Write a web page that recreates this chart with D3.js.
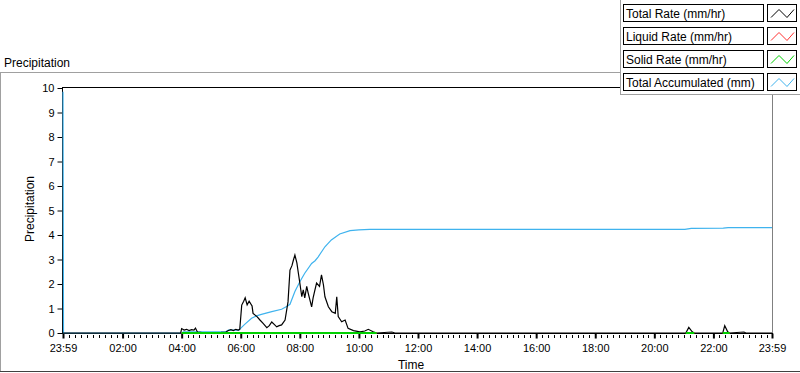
<!DOCTYPE html>
<html>
<head>
<meta charset="utf-8">
<script src="https://cdn.jsdelivr.net/npm/d3@7"></script>
<style>
  body { margin: 0; background: #fff; }
  svg { display: block; font-family: "Liberation Sans", Arial, sans-serif; }
</style>
</head>
<body>
<div id="container"></div>
<script>
/* DATA (minutes after midnight, -1 = 23:59 of the day before) */
const rateMinutes = [-1, 238, 240, 245, 250, 255, 260, 265, 268, 272, 280, 300, 320, 330, 335, 340, 345, 350, 355, 358,
  362, 366, 369, 373, 377, 383, 385, 393, 399, 405, 413, 418, 423, 428, 433, 438, 443, 450, 456, 460, 464, 467, 470, 474, 477,
  480, 484, 487, 490, 494, 497, 504, 507, 510, 514, 520, 524, 528, 531, 538, 545, 552, 555, 558, 565, 572, 578, 589, 602,
  612, 619, 629, 636, 667, 673, 1264, 1270, 1277, 1281, 1339, 1343, 1349, 1353, 1382, 1386, 1439];
const rateValues = [0, 0, 0.18, 0.12, 0.15, 0.1, 0.14, 0.12, 0.2, 0.04, 0.03, 0.02, 0.03, 0.04, 0.1, 0.14, 0.1, 0.15, 0.12, 0.15,
  1.14, 1.3, 1.44, 1.15, 1.3, 1.1, 0.8, 0.67, 0.53, 0.4, 0.22, 0.3, 0.45, 0.35, 0.25, 0.3, 0.33, 0.53, 1.27, 2.57, 2.75, 2.98, 3.18, 2.86, 2.45,
  2.04, 1.48, 1.76, 1.43, 1.9, 1.63, 1.07, 1.43, 1.7, 2.04, 1.9, 2.37, 1.96, 1.48, 1.07, 0.87, 0.8, 1.48, 0.67, 0.46, 0.53, 0.19, 0.1, 0.05,
  0.08, 0.15, 0.05, 0, 0.04, 0, 0, 0.23, 0.05, 0, 0, 0.3, 0.05, 0, 0.04, 0, 0];

const accumMinutes = [-1, 0, 240, 244, 330, 335, 356, 368, 382, 392, 402, 423, 443, 456, 460, 470, 480, 490, 504, 511, 517,
  531, 544, 561, 582, 600, 622, 1262, 1275, 1340, 1350, 1439];
const accumValues = [9.85, 0, 0, 0.05, 0.06, 0.12, 0.12, 0.35, 0.6, 0.7, 0.76, 0.87, 0.97, 1.11, 1.17, 1.69, 2.09, 2.44, 2.84, 2.95, 3.1,
  3.52, 3.8, 4.04, 4.18, 4.21, 4.23, 4.23, 4.27, 4.28, 4.3, 4.3];

const solidMinutes = [240, 636, 637, 1264, 1281, 1282, 1339, 1353];
const solidValues = [0, 0, null, 0, 0, null, 0, 0];
const liquidMinutes = solidMinutes;
const liquidValues = solidValues;

const yTicks = [0, 1, 2, 3, 4, 5, 6, 7, 8, 9, 10];
const xMajorTicks = [-1, 120, 240, 360, 480, 600, 720, 840, 960, 1080, 1200, 1320, 1439];
const xMinorTicks = d3.range(12, 1439, 12).filter(m => m % 120 !== 0);

const legendNames = ["Total Rate (mm/hr)", "Liquid Rate (mm/hr)", "Solid Rate (mm/hr)", "Total Accumulated (mm)"];
const legendColors = ["#000000", "#ff3030", "#00d000", "#3fb3ee"];

/* CONSTANTS */
const width = 800, height = 373;
const plot = { left: 63, right: 772, top: 88, bottom: 333 };

const svg = d3.select("#container").append("svg")
  .attr("width", width)
  .attr("height", height);

/* SCALES */
const xScale = d3.scaleLinear().domain([-1, 1439]).range([plot.left, plot.right]);
const yScale = d3.scaleLinear().domain([0, 10]).range([plot.bottom, plot.top]);

const fmt = m => m < 0 ? "23:59" : d3.format("02")(Math.floor(m / 60)) + ":" + d3.format("02")(m % 60);

/* outer panel */
svg.append("line").attr("x1", 0.5).attr("x2", 0.5).attr("y1", 72).attr("y2", 372).attr("stroke", "#a0a0a0");
svg.append("line").attr("x1", 0).attr("x2", 800).attr("y1", 72.5).attr("y2", 72.5).attr("stroke", "#a0a0a0");
svg.append("line").attr("x1", 0).attr("x2", 800).attr("y1", 371.5).attr("y2", 371.5).attr("stroke", "#404040");

svg.append("text").attr("x", 4).attr("y", 67).attr("font-size", 12).text("Precipitation");

/* plot frame */
svg.append("rect").attr("x", plot.left - 0.5).attr("y", plot.top - 0.5)
  .attr("width", plot.right - plot.left + 1).attr("height", plot.bottom - plot.top + 1)
  .attr("fill", "#fff").attr("stroke", "none");
svg.append("line").attr("x1", plot.left - 1).attr("x2", plot.right).attr("y1", plot.top - 0.5).attr("y2", plot.top - 0.5).attr("stroke", "#000");
svg.append("line").attr("x1", plot.right + 0.5).attr("x2", plot.right + 0.5).attr("y1", plot.top).attr("y2", plot.bottom).attr("stroke", "#808080");

/* AXES */
const yAxis = d3.axisLeft(yScale).tickValues(yTicks).tickSize(5).tickPadding(3).tickFormat(d3.format("d"));
const yG = svg.append("g").attr("transform", `translate(${plot.left - 0.5},0)`).call(yAxis);
yG.select(".domain").attr("d", `M0,${plot.top - 1}V${plot.bottom + 1}`).attr("stroke", "#000");
yG.selectAll("text").attr("font-size", 11).attr("font-family", "Liberation Sans, Arial, sans-serif").attr("fill", "#000");

const xAxis = d3.axisBottom(xScale).tickValues(xMajorTicks).tickSize(5).tickPadding(6).tickFormat(fmt);
const xG = svg.append("g").attr("transform", `translate(0,${plot.bottom + 0.5})`).call(xAxis);
xG.select(".domain").attr("d", `M${plot.left - 1},0H${plot.right + 1}`).attr("stroke", "#000");
xG.selectAll(".tick line").attr("stroke-width", 2);
xG.selectAll("text").attr("font-size", 11).attr("font-family", "Liberation Sans, Arial, sans-serif").attr("fill", "#000");

svg.append("g").selectAll("line")
  .data(xMinorTicks)
  .join("line")
  .attr("x1", d => Math.round(xScale(d)) + 0.5)
  .attr("x2", d => Math.round(xScale(d)) + 0.5)
  .attr("y1", plot.bottom + 2)
  .attr("y2", plot.bottom + 5)
  .attr("stroke", "#000");

svg.append("text").attr("x", 411).attr("y", 369).attr("text-anchor", "middle").attr("font-size", 12).text("Time");
svg.append("text").attr("transform", "translate(34,209) rotate(-90)").attr("text-anchor", "middle")
  .attr("font-size", 12).text("Precipitation");

/* LINES (accumulated underneath, then rates) */
const line = d3.line()
  .defined(d => d[1] !== null)
  .x(d => xScale(d[0]))
  .y(d => yScale(d[1]));
const zipped = (ms, vs) => ms.map((m, i) => [m, vs[i]]);

const g = svg.append("g");
g.append("path").attr("d", line(zipped(accumMinutes, accumValues)))
  .attr("fill", "none").attr("stroke", legendColors[3]).attr("stroke-width", 1.2);
g.append("path").attr("d", line(zipped(rateMinutes, rateValues)))
  .attr("fill", "none").attr("stroke", legendColors[0]).attr("stroke-width", 1.2);
g.append("path").attr("d", line(zipped(liquidMinutes, liquidValues)))
  .attr("fill", "none").attr("stroke", legendColors[1]).attr("stroke-width", 2);
g.append("path").attr("d", line(zipped(solidMinutes, solidValues)))
  .attr("fill", "none").attr("stroke", legendColors[2]).attr("stroke-width", 2);

/* LEGEND */
const lg = svg.append("g");
lg.append("rect").attr("x", 620.5).attr("y", -1).attr("width", 181).attr("height", 95.5)
  .attr("fill", "#fff").attr("stroke", "#a0a0a0");
const rows = lg.selectAll(".row")
  .data(legendNames)
  .join("g")
  .attr("transform", (d, i) => `translate(0,${4.5 + i * 23})`);
rows.append("rect").attr("x", 623.5).attr("y", 0).attr("width", 140).attr("height", 17)
  .attr("fill", "#fff").attr("stroke", "#000");
rows.append("text").attr("x", 626).attr("y", 13).attr("font-size", 12).text(d => d);
rows.append("rect").attr("x", 767.5).attr("y", 0).attr("width", 29).attr("height", 17)
  .attr("fill", "#fff").attr("stroke", "#000");
rows.append("path")
  .attr("d", "M771,13L779,5L787,13L794,5")
  .attr("fill", "none")
  .attr("stroke", (d, i) => legendColors[i]);
</script>
</body>
</html>
